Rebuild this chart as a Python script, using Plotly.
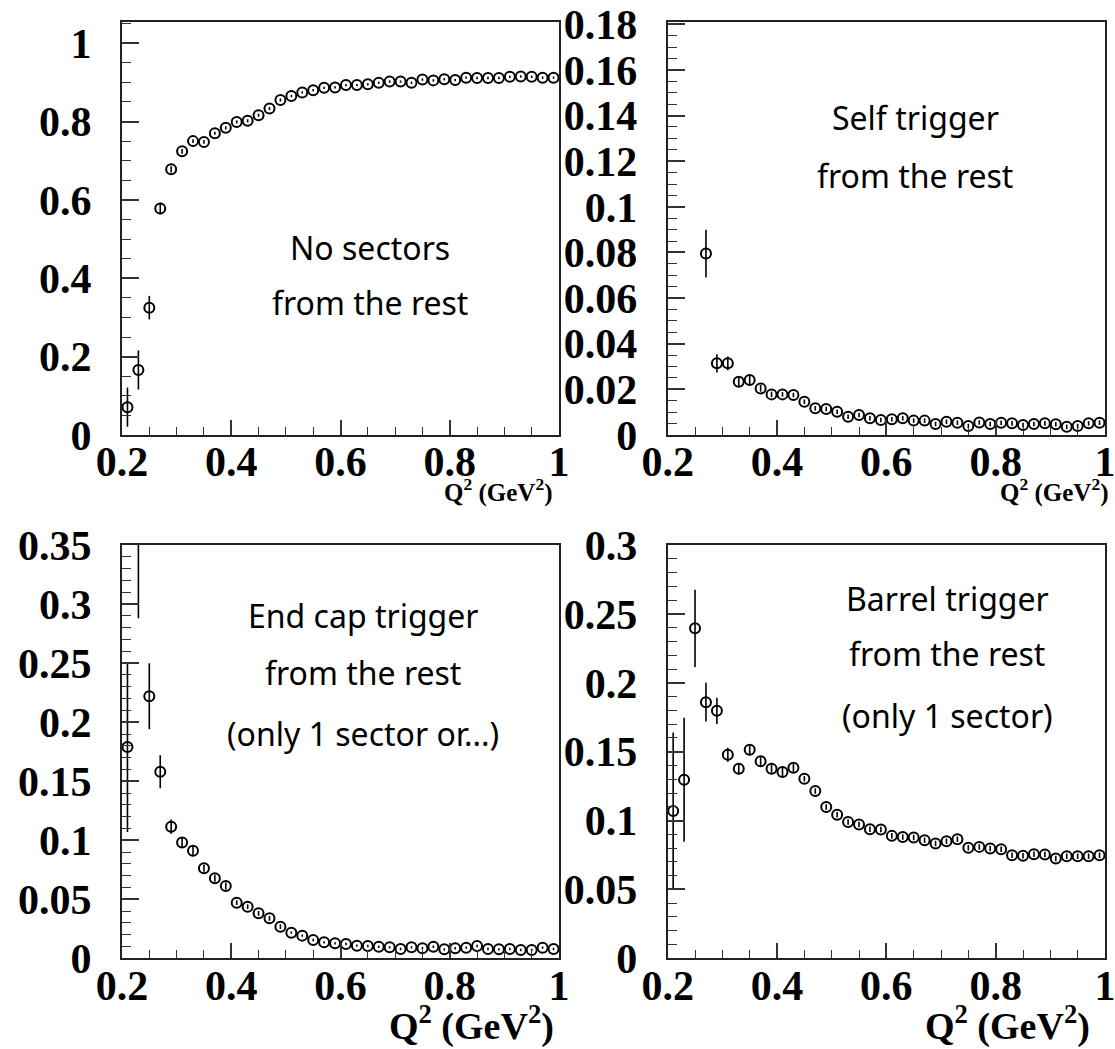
import plotly.graph_objects as go

q2 = [0.21, 0.23, 0.25, 0.27, 0.29, 0.31, 0.33, 0.35, 0.37, 0.39,
      0.41, 0.43, 0.45, 0.47, 0.49, 0.51, 0.53, 0.55, 0.57, 0.59,
      0.61, 0.63, 0.65, 0.67, 0.69, 0.71, 0.73, 0.75, 0.77, 0.79,
      0.81, 0.83, 0.85, 0.87, 0.89, 0.91, 0.93, 0.95, 0.97, 0.99]

# Panel 1: No sectors from the rest
no_sectors = [0.071, 0.166, 0.325, 0.578, 0.678, 0.724, 0.750, 0.748, 0.770, 0.784,
              0.799, 0.802, 0.816, 0.833, 0.855, 0.865, 0.874, 0.880, 0.886, 0.887,
              0.893, 0.893, 0.895, 0.899, 0.902, 0.902, 0.899, 0.907, 0.905, 0.908,
              0.906, 0.912, 0.911, 0.911, 0.911, 0.914, 0.915, 0.914, 0.912, 0.912]
no_sectors_err = [0.05, 0.05, 0.03, 0.015, 0.008, 0.006, 0.005, 0.005, 0.004, 0.004,
                  0.004, 0.004, 0.004, 0.004, 0.004, 0.003, 0.003, 0.003, 0.003, 0.003,
                  0.003, 0.003, 0.003, 0.003, 0.003, 0.003, 0.003, 0.003, 0.003, 0.003,
                  0.003, 0.003, 0.003, 0.003, 0.003, 0.003, 0.003, 0.003, 0.003, 0.003]

# Panel 2: Self trigger from the rest
self_trig = [None, None, None, 0.0795, 0.0314, 0.0314, 0.0233, 0.0241, 0.0204, 0.0178,
             0.0178, 0.0175, 0.0146, 0.0117, 0.0114, 0.0102, 0.0080, 0.0088, 0.0073, 0.0066,
             0.0069, 0.0073, 0.0063, 0.0063, 0.0048, 0.0058, 0.0054, 0.0039, 0.0055, 0.0048,
             0.0054, 0.0051, 0.0044, 0.0048, 0.0051, 0.0047, 0.0036, 0.0039, 0.0051, 0.0054]
self_trig_err = [0, 0, 0, 0.0105, 0.004, 0.003, 0.002, 0.002, 0.0015, 0.0012,
                 0.001, 0.001, 0.001, 0.001, 0.001, 0.001, 0.001, 0.001, 0.001, 0.001,
                 0.001, 0.001, 0.001, 0.001, 0.001, 0.001, 0.001, 0.001, 0.001, 0.001,
                 0.001, 0.001, 0.001, 0.001, 0.001, 0.001, 0.001, 0.001, 0.001, 0.001]

# Panel 3: End cap trigger from the rest
endcap = [0.179, 0.400, 0.222, 0.158, 0.1115, 0.098, 0.0912, 0.0763, 0.0678, 0.0613,
          0.0471, 0.0437, 0.0381, 0.0339, 0.0268, 0.0217, 0.0192, 0.0155, 0.0135, 0.0127,
          0.0121, 0.0107, 0.0104, 0.0098, 0.0093, 0.0079, 0.0093, 0.0085, 0.0098, 0.0076,
          0.0085, 0.0090, 0.0104, 0.0079, 0.0076, 0.0079, 0.0070, 0.0070, 0.0090, 0.0079]
endcap_err = [0.072, 0.112, 0.028, 0.014, 0.006, 0.004, 0.004, 0.003, 0.003, 0.003,
              0.002, 0.002, 0.002, 0.002, 0.002, 0.001, 0.001, 0.001, 0.001, 0.001,
              0.001, 0.001, 0.001, 0.001, 0.001, 0.001, 0.001, 0.001, 0.001, 0.001,
              0.001, 0.001, 0.001, 0.001, 0.001, 0.001, 0.001, 0.001, 0.001, 0.001]

# Panel 4: Barrel trigger from the rest
barrel = [0.107, 0.1297, 0.2396, 0.186, 0.1797, 0.1478, 0.1377, 0.1514, 0.143, 0.1377,
          0.1352, 0.1384, 0.1304, 0.1215, 0.1099, 0.1043, 0.099, 0.0971, 0.0937, 0.0935,
          0.0889, 0.0881, 0.0877, 0.0857, 0.0833, 0.085, 0.0864, 0.0802, 0.0809, 0.0797,
          0.0792, 0.0749, 0.0744, 0.0756, 0.0754, 0.0725, 0.0741, 0.0741, 0.0741, 0.0749]
barrel_err = [0.057, 0.045, 0.028, 0.014, 0.0095, 0.005, 0.004, 0.004, 0.003, 0.003,
              0.003, 0.003, 0.002, 0.002, 0.002, 0.002, 0.002, 0.002, 0.002, 0.002,
              0.002, 0.002, 0.002, 0.002, 0.002, 0.002, 0.002, 0.002, 0.002, 0.002,
              0.002, 0.002, 0.002, 0.002, 0.002, 0.002, 0.002, 0.002, 0.002, 0.002]

x_ticks = [0.2, 0.4, 0.6, 0.8, 1.0]
x_ticklabels = ["0.2", "0.4", "0.6", "0.8", "1"]

panels = [
    dict(y=no_sectors, err=no_sectors_err, yr=[0, 1.054], dt=0.2, mdt=0.05,
         text=["No sectors", "from the rest"], tx=370, ty=[248, 302]),
    dict(y=self_trig, err=self_trig_err, yr=[0, 0.181], dt=0.02, mdt=0.005,
         text=["Self trigger", "from the rest"], tx=915, ty=[118, 175]),
    dict(y=endcap, err=endcap_err, yr=[0, 0.3501], dt=0.05, mdt=0.01,
         text=["End cap trigger", "from the rest", "(only 1 sector or...)"], tx=363, ty=[615, 672, 733]),
    dict(y=barrel, err=barrel_err, yr=[0, 0.3001], dt=0.05, mdt=0.01,
         text=["Barrel trigger", "from the rest", "(only 1 sector)"], tx=947, ty=[598, 653, 715]),
]

W, H = 1115, 1049
xdoms = [[122 / W, 559 / W], [667.7 / W, 1105 / W]]
ydoms = [[1 - 435 / H, 1 - 22 / H], [1 - 958.3 / H, 1 - 545 / H]]

tickfont = dict(family="Liberation Serif, Times New Roman, serif", size=42, color="black", weight="bold")

fig = go.Figure()
layout = dict(width=W, height=H, margin=dict(l=0, r=0, t=0, b=0, autoexpand=False),
              paper_bgcolor="white", plot_bgcolor="white", showlegend=False)
annotations = []

for i, p in enumerate(panels):
    n = i + 1
    xa = "x" if n == 1 else f"x{n}"
    ya = "y" if n == 1 else f"y{n}"
    fig.add_trace(go.Scatter(
        x=q2, y=p["y"], mode="markers", xaxis=xa, yaxis=ya,
        marker=dict(symbol="circle-open", size=10, color="black", line=dict(width=2, color="black")),
        error_y=dict(type="data", array=p["err"], symmetric=True, color="black", thickness=1.6, width=0),
    ))
    col = i % 2
    row = i // 2
    xkey = "xaxis" if n == 1 else f"xaxis{n}"
    ykey = "yaxis" if n == 1 else f"yaxis{n}"
    layout[xkey] = dict(domain=xdoms[col], anchor=ya, range=[0.2, 1.0], automargin=False,
                        tickvals=x_ticks, ticktext=x_ticklabels, ticklabeloverflow="allow",
                        ticks="inside", ticklen=15, tickwidth=1.5, tickcolor="#333",
                        minor=dict(dtick=0.05, tick0=0.2, ticks="inside", ticklen=8, tickwidth=1.2, tickcolor="#333"),
                        showline=True, linewidth=2, linecolor="#222", mirror=True,
                        showgrid=False, zeroline=False, tickfont=tickfont, ticklabelstandoff=-11)
    layout[ykey] = dict(domain=ydoms[row], anchor=xa, range=p["yr"], dtick=p["dt"], tick0=0, automargin=False,
                        ticks="inside", ticklen=17, tickwidth=1.5, tickcolor="#333", ticklabeloverflow="allow",
                        minor=dict(dtick=p["mdt"], tick0=0, ticks="inside", ticklen=9, tickwidth=1.2, tickcolor="#333"),
                        showline=True, linewidth=2, linecolor="#222", mirror=True,
                        showgrid=False, zeroline=False, tickfont=tickfont, ticklabelstandoff=20)
    for t, yy in zip(p["text"], p["ty"]):
        annotations.append(dict(text=t, x=p["tx"] / W, y=1 - yy / H, xref="paper", yref="paper",
                                xanchor="center", yanchor="middle", showarrow=False,
                                font=dict(family="Noto Sans, DejaVu Sans, sans-serif", size=32, color="black")))

title_font_small = dict(family="Liberation Serif, Times New Roman, serif", size=25, color="black", weight="bold")
title_font_big = dict(family="Liberation Serif, Times New Roman, serif", size=38, color="black", weight="bold")
qtitle = "Q<sup>2</sup> (GeV<sup>2</sup>)"
annotations += [
    dict(text=qtitle, x=554 / W, y=1 - 490 / H, xref="paper", yref="paper", xanchor="right", yanchor="middle",
         showarrow=False, font=title_font_small),
    dict(text=qtitle, x=1110 / W, y=1 - 490 / H, xref="paper", yref="paper", xanchor="right", yanchor="middle",
         showarrow=False, font=title_font_small),
    dict(text=qtitle, x=556 / W, y=1 - 1023 / H, xref="paper", yref="paper", xanchor="right", yanchor="middle",
         showarrow=False, font=title_font_big),
    dict(text=qtitle, x=1092 / W, y=1 - 1023 / H, xref="paper", yref="paper", xanchor="right", yanchor="middle",
         showarrow=False, font=title_font_big),
]
layout["annotations"] = annotations
fig.update_layout(**layout)
fig.write_html("out.html")
